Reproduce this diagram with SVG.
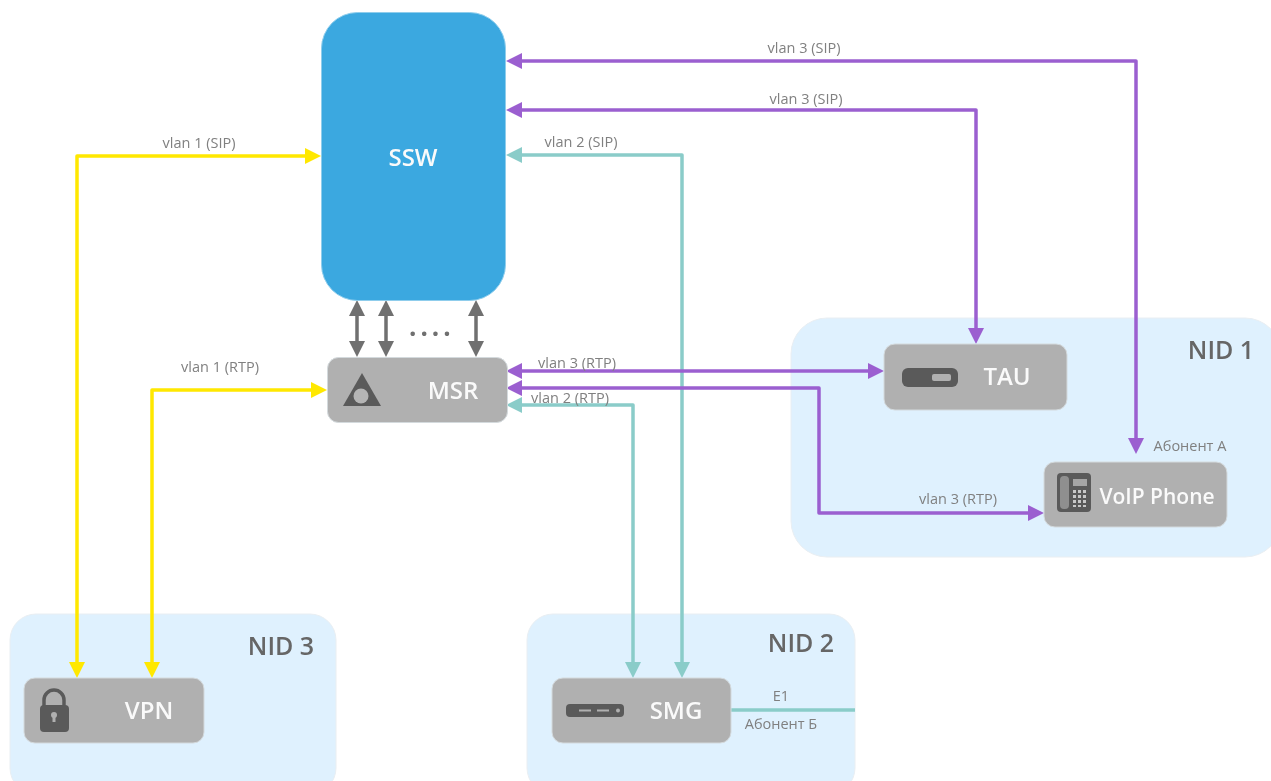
<svg xmlns="http://www.w3.org/2000/svg" width="1271" height="781" viewBox="0 0 1271 781">
<style>
text{font-family:"Open Sans","Liberation Sans",sans-serif}
.nid{fill:#dff1fe;stroke:#e9eef2;stroke-width:1}
.box{fill:#b0b0b0;stroke:#d4dadd;stroke-width:1}
.name{font-size:24px;font-weight:600;fill:#fafafa;text-anchor:middle}
.nidt{font-size:25px;font-weight:600;fill:#666;text-anchor:middle}
.lbl{font-size:14.500px;fill:#808080;text-anchor:middle}
.ico{fill:#5a5a5a}
.c{fill:none;stroke-width:3.500;stroke-linejoin:round}
.y{stroke:#ffe800}.p{stroke:#9b5fd0}.t{stroke:#8accc9}.g{stroke:#6f6f6f}
</style>
<defs>
<filter id="soft" x="0" y="0" width="1271" height="781" filterUnits="userSpaceOnUse"><feGaussianBlur stdDeviation="0.650"/></filter>
<marker id="ay" markerUnits="userSpaceOnUse" viewBox="0 0 16 16" markerWidth="16" markerHeight="16" refX="3" refY="8" orient="auto-start-reverse"><path d="M0 0L16 8L0 16z" fill="#ffe800"/></marker>
<marker id="ap" markerUnits="userSpaceOnUse" viewBox="0 0 16 16" markerWidth="16" markerHeight="16" refX="3" refY="8" orient="auto-start-reverse"><path d="M0 0L16 8L0 16z" fill="#9b5fd0"/></marker>
<marker id="at" markerUnits="userSpaceOnUse" viewBox="0 0 16 16" markerWidth="16" markerHeight="16" refX="3" refY="8" orient="auto-start-reverse"><path d="M0 0L16 8L0 16z" fill="#8accc9"/></marker>
<marker id="ag" markerUnits="userSpaceOnUse" viewBox="0 0 16 16" markerWidth="16" markerHeight="16" refX="3" refY="8" orient="auto-start-reverse"><path d="M0 0L16 8L0 16z" fill="#6f6f6f"/></marker>
</defs>
<rect width="1271" height="781" fill="#fff"/>
<g filter="url(#soft)">
<g id="nid1"><rect class="nid" x="791" y="318" width="490" height="239" rx="36"/><text class="nidt" x="1221" y="359">NID 1</text></g>
<g id="nid3"><rect class="nid" x="10" y="614" width="326" height="180" rx="26"/><text class="nidt" x="281" y="655">NID 3</text></g>
<g id="nid2"><rect class="nid" x="527" y="614" width="328" height="180" rx="26"/><text class="nidt" x="801" y="652">NID 2</text></g>
<g id="connectors">
<path class="c t" d="M731 710H855"/>
<path class="c y" marker-start="url(#ay)" marker-end="url(#ay)" d="M77 665V156H308"/>
<path class="c y" marker-start="url(#ay)" marker-end="url(#ay)" d="M152 665V390H314"/>
<path class="c p" marker-start="url(#ap)" marker-end="url(#ap)" d="M519 61H1136V441"/>
<path class="c p" marker-start="url(#ap)" marker-end="url(#ap)" d="M519 110H976V331"/>
<path class="c t" marker-start="url(#at)" marker-end="url(#at)" d="M519 155H682V665"/>
<path class="c t" marker-start="url(#at)" marker-end="url(#at)" d="M519 405H633V665"/>
<path class="c p" marker-start="url(#ap)" marker-end="url(#ap)" d="M519 371H871"/>
<path class="c p" marker-start="url(#ap)" marker-end="url(#ap)" d="M519 388H819V513H1031"/>
<path class="c g" marker-start="url(#ag)" marker-end="url(#ag)" d="M357 313V344"/>
<path class="c g" marker-start="url(#ag)" marker-end="url(#ag)" d="M386 313V344"/>
<path class="c g" marker-start="url(#ag)" marker-end="url(#ag)" d="M476 313V344"/>
</g>
<g id="ssw"><rect x="321.500" y="12.500" width="184" height="288" rx="36" fill="#3ba8e0" stroke="#8fcdec"/><text class="name" x="413" y="166">SSW</text></g>
<g id="msr"><rect class="box" x="327.500" y="357.500" width="180" height="65" rx="11"/>
<path class="ico" d="M362 373L381 406H343z"/><circle cx="361" cy="396" r="7.500" fill="#b5b5b5"/>
<text class="name" x="453" y="399">MSR</text></g>
<g id="tau"><rect class="box" x="884" y="344" width="183" height="66" rx="11"/>
<rect class="ico" x="902" y="368" width="56" height="19" rx="6"/><rect x="932" y="374" width="19" height="7" rx="2" fill="#b0b0b0"/>
<text class="name" x="1007" y="385">TAU</text></g>
<g id="voip"><rect class="box" x="1044" y="462" width="183" height="65" rx="11"/>
<rect class="ico" x="1057" y="473" width="34" height="39" rx="4"/><rect x="1060" y="476" width="9" height="33" rx="4" fill="#8f8f8f"/><rect x="1073" y="479" width="14" height="7" fill="#a5a5a5"/>
<path d="M1073 490h3v3h-3zM1078 490h3v3h-3zM1083 490h3v3h-3zM1073 495h3v3h-3zM1078 495h3v3h-3zM1083 495h3v3h-3zM1073 500h3v3h-3zM1078 500h3v3h-3zM1083 500h3v3h-3zM1073 505h3v2h-3zM1078 505h3v2h-3zM1083 505h3v2h-3z" fill="#c8c8c8"/>
<text class="name" style="font-size:21px" x="1157" y="504">VoIP Phone</text></g>
<g id="vpn"><rect class="box" x="24" y="678" width="180" height="65" rx="11"/>
<path d="M44 708V700a10 10 0 0 1 20 0V708" fill="none" stroke="#5a5a5a" stroke-width="3.500"/><rect class="ico" x="40" y="705" width="29" height="27" rx="4"/><circle cx="54" cy="715" r="3" fill="#b0b0b0"/><rect x="52.500" y="715" width="3" height="7" fill="#b0b0b0"/>
<text class="name" x="149" y="719">VPN</text></g>
<g id="smg"><rect class="box" x="552" y="678" width="179" height="65" rx="11"/>
<rect class="ico" x="566" y="704" width="58" height="13" rx="4"/><path d="M579 710.500H591M597 710.500H609" stroke="#b0b0b0" stroke-width="2"/><circle cx="618" cy="710.500" r="2" fill="#b0b0b0"/>
<text class="name" x="676" y="719">SMG</text></g>
<g id="labels">
<text class="lbl" x="199" y="148">vlan 1 (SIP)</text>
<text class="lbl" x="220" y="372">vlan 1 (RTP)</text>
<text class="lbl" x="581" y="147">vlan 2 (SIP)</text>
<text class="lbl" x="570" y="403">vlan 2 (RTP)</text>
<text class="lbl" x="577" y="368">vlan 3 (RTP)</text>
<text class="lbl" x="804" y="53">vlan 3 (SIP)</text>
<text class="lbl" x="806" y="104">vlan 3 (SIP)</text>
<text class="lbl" x="958" y="504">vlan 3 (RTP)</text>
<text class="lbl" x="1190" y="451">Абонент А</text>
<text class="lbl" x="781" y="701">E1</text>
<text class="lbl" x="781" y="729">Абонент Б</text>
<text x="409" y="336" font-size="26" font-weight="700" fill="#6f6f6f" letter-spacing="4">....</text>
</g>
</g>
</svg>
